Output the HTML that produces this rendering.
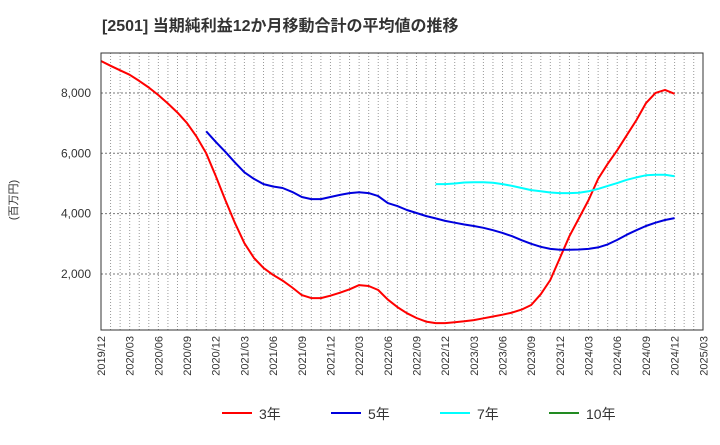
<!DOCTYPE html>
<html><head><meta charset="utf-8"><style>
body{margin:0;background:#fff;font-family:"Liberation Sans","Noto Sans CJK JP",sans-serif;}
#c{position:relative;width:720px;height:440px;}
</style></head><body>
<div id="c">
<svg id="s" width="720" height="440" xmlns="http://www.w3.org/2000/svg">
<text x="102" y="31" font-size="16" font-weight="bold" fill="#333" font-family="Liberation Sans, Noto Sans CJK JP, sans-serif">[2501]  当期純利益12か月移動合計の平均値の推移</text>
<text transform="translate(17,200) rotate(-90)" text-anchor="middle" font-size="11" fill="#333" font-family="Liberation Sans, Noto Sans CJK JP, sans-serif">(百万円)</text>
<g id="grid"></g><g id="lines"></g><g id="axes"></g>
<g id="legend"></g>
</svg>
</div>
<script>
const xTicks=["2019/12","2020/03","2020/06","2020/09","2020/12","2021/03","2021/06","2021/09","2021/12","2022/03","2022/06","2022/09","2022/12","2023/03","2023/06","2023/09","2023/12","2024/03","2024/06","2024/09","2024/12","2025/03"];
const yTicks=[2000,4000,6000,8000];
// monthly values, index 0 = 2019/12
const s3=[9060,8900,8750,8600,8400,8180,7930,7650,7350,7000,6550,6000,5250,4450,3700,3020,2530,2200,1970,1780,1550,1300,1200,1200,1280,1380,1490,1630,1600,1470,1150,900,700,540,420,370,370,400,430,470,530,590,650,720,820,970,1330,1800,2530,3250,3850,4450,5150,5650,6100,6600,7100,7660,8000,8100,7970];
const s5=[null,null,null,null,null,null,null,null,null,null,null,6730,6380,6050,5700,5370,5150,4980,4900,4850,4720,4550,4480,4480,4550,4620,4680,4710,4680,4580,4350,4250,4120,4020,3920,3840,3760,3700,3640,3590,3530,3450,3360,3250,3120,3000,2900,2830,2800,2800,2810,2830,2880,2980,3130,3300,3450,3590,3700,3790,3850];
const s7=[null,null,null,null,null,null,null,null,null,null,null,null,null,null,null,null,null,null,null,null,null,null,null,null,null,null,null,null,null,null,null,null,null,null,null,4980,4980,5000,5030,5040,5040,5020,4980,4920,4850,4780,4740,4700,4680,4680,4690,4740,4820,4920,5010,5120,5200,5270,5290,5290,5240];
const s10=[];
const L=101,R=703,T=53,B=330,X0=101,DX=9.56;
const x=i=>X0+i*DX, y=v=>334.3-v*0.03017;
const NS="http://www.w3.org/2000/svg";
function mk(tag,attrs,parent){const e=document.createElementNS(NS,tag);for(const k in attrs)e.setAttribute(k,attrs[k]);document.getElementById(parent).appendChild(e);return e;}
for(let m=1;m<63;m++){const e=mk("line",{x1:x(m),x2:x(m),y1:T,y2:B,stroke:"#999","stroke-width":1,"stroke-dasharray":"1,2"},"grid");

}
yTicks.forEach(v=>{const e=mk("line",{x1:L,x2:R,y1:y(v),y2:y(v),stroke:"#777","stroke-width":1,"stroke-dasharray":"2,2"},"grid");


const t=mk("text",{x:91,y:y(v)+4,"text-anchor":"end","font-size":12,fill:"#333"},"axes");t.textContent=v.toLocaleString("en-US");

});
xTicks.forEach((lab,i)=>{const t=mk("text",{transform:`translate(${x(i*3)+4},${B+6}) rotate(-90)`,"text-anchor":"end","font-size":11,fill:"#333"},"axes");t.textContent=lab;

});
const fr=mk("rect",{x:L,y:T,width:R-L,height:B-T,fill:"none",stroke:"#333","stroke-width":1},"axes");


function path(arr,color,name){let d="";arr.forEach((v,i)=>{if(v==null)return;d+=(d?"L":"M")+x(i).toFixed(1)+","+y(v).toFixed(1);});if(!d)return;
const p=mk("path",{d:d,fill:"none",stroke:color,"stroke-width":2,"stroke-linejoin":"round"},"lines");

}
path(s3,"#ff0000","line-3yr");path(s5,"#0000dd","line-5yr");path(s7,"#00ffff","line-7yr");path(s10,"#228b22","line-10yr");
const leg=[["3年","#ff0000",222],["5年","#0000dd",331],["7年","#00ffff",440],["10年","#228b22",549]];
leg.forEach(([lab,c,lx])=>{const l=mk("line",{x1:lx,x2:lx+30,y1:413,y2:413,stroke:c,"stroke-width":2},"legend");


const t=mk("text",{x:lx+37,y:419,"font-size":14,fill:"#333"},"legend");t.textContent=lab;

});
</script>
</body></html>
